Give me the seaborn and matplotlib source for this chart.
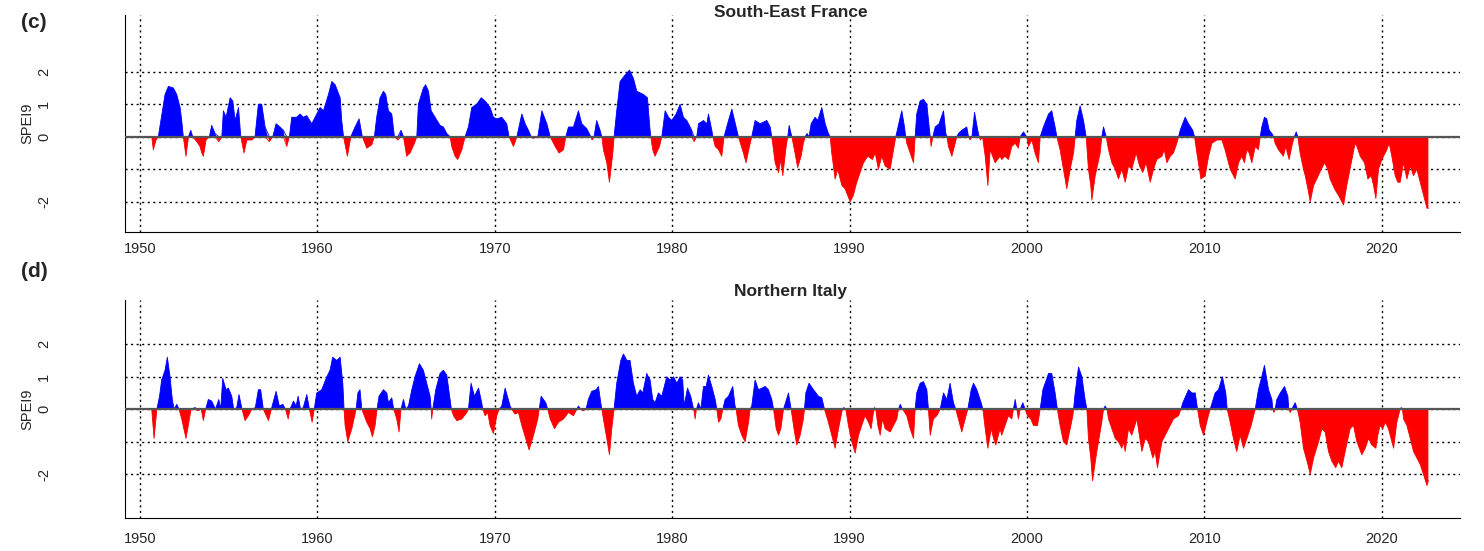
import numpy as np
import pandas as pd
import seaborn as sns
import matplotlib.pyplot as plt

# SPEI9 (decimal year, value)
fr_years = [1950.66, 1950.75, 1950.90, 1951.03, 1951.41, 1951.60, 1951.88, 1952.07, 1952.26, 1952.35,
            1952.44, 1952.59, 1952.73, 1952.86, 1952.97, 1953.20, 1953.38, 1953.48, 1953.57, 1953.72,
            1953.91, 1954.04, 1954.23, 1954.44, 1954.61, 1954.70, 1954.85, 1955.08, 1955.23, 1955.36,
            1955.55, 1955.68, 1955.86, 1956.02, 1956.30, 1956.48, 1956.67, 1956.86, 1957.05, 1957.29,
            1957.48, 1957.67, 1957.89, 1958.08, 1958.27, 1958.42, 1958.55, 1958.83, 1959.02, 1959.21,
            1959.40, 1959.68, 1959.87, 1960.15, 1960.34, 1960.62, 1960.81, 1961.00, 1961.28, 1961.37,
            1961.47, 1961.69, 1961.88, 1962.12, 1962.35, 1962.53, 1962.78, 1963.06, 1963.21, 1963.34,
            1963.53, 1963.72, 1963.85, 1964.00, 1964.19, 1964.34, 1964.53, 1964.71, 1964.85, 1965.03,
            1965.22, 1965.47, 1965.60, 1965.69, 1965.97, 1966.10, 1966.26, 1966.41, 1966.63, 1966.91,
            1967.10, 1967.29, 1967.48, 1967.57, 1967.76, 1967.91, 1968.14, 1968.32, 1968.51, 1968.70,
            1968.98, 1969.23, 1969.45, 1969.73, 1969.92, 1970.11, 1970.39, 1970.67, 1970.80, 1971.05,
            1971.24, 1971.52, 1971.71, 1971.89, 1972.05, 1972.18, 1972.42, 1972.65, 1972.93, 1973.12,
            1973.40, 1973.62, 1973.87, 1974.00, 1974.15, 1974.43, 1974.71, 1974.90, 1975.18, 1975.41,
            1975.48, 1975.59, 1975.74, 1975.93, 1976.03, 1976.12, 1976.31, 1976.46, 1976.65, 1976.72,
            1976.87, 1977.06, 1977.34, 1977.59, 1977.81, 1978.00, 1978.19, 1978.38, 1978.60, 1978.75,
            1978.79, 1978.90, 1979.03, 1979.28, 1979.41, 1979.60, 1979.79, 1979.97, 1980.22, 1980.44,
            1980.63, 1980.82, 1981.10, 1981.23, 1981.38, 1981.48, 1981.76, 1981.95, 1982.04, 1982.23,
            1982.29, 1982.42, 1982.61, 1982.79, 1982.92, 1983.17, 1983.36, 1983.60, 1983.73, 1984.01,
            1984.16, 1984.35, 1984.48, 1984.67, 1984.95, 1985.33, 1985.52, 1985.61, 1985.80, 1985.99,
            1986.12, 1986.23, 1986.42, 1986.51, 1986.59, 1986.74, 1986.92, 1987.07, 1987.26, 1987.39,
            1987.49, 1987.60, 1987.71, 1987.83, 1988.05, 1988.20, 1988.43, 1988.62, 1988.80, 1988.90,
            1988.99, 1989.18, 1989.33, 1989.56, 1989.74, 1990.03, 1990.21, 1990.40, 1990.78, 1991.02,
            1991.28, 1991.44, 1991.62, 1991.81, 1992.00, 1992.28, 1992.47, 1992.60, 1992.85, 1992.94,
            1993.09, 1993.16, 1993.22, 1993.47, 1993.60, 1993.69, 1993.78, 1993.97, 1994.16, 1994.35,
            1994.48, 1994.54, 1994.59, 1994.69, 1994.82, 1995.04, 1995.29, 1995.42, 1995.48, 1995.57,
            1995.76, 1995.95, 1996.04, 1996.13, 1996.32, 1996.60, 1996.70, 1996.79, 1996.89, 1997.04,
            1997.22, 1997.30, 1997.37, 1997.49, 1997.64, 1997.79, 1997.92, 1998.20, 1998.48, 1998.57,
            1998.76, 1998.95, 1999.14, 1999.33, 1999.51, 1999.61, 1999.80, 1999.98, 2000.08, 2000.27,
            2000.45, 2000.64, 2000.74, 2000.92, 2001.21, 2001.39, 2001.58, 2001.68, 2001.86, 2002.05,
            2002.24, 2002.43, 2002.62, 2002.71, 2002.80, 2002.99, 2003.18, 2003.33, 2003.46, 2003.59,
            2003.65, 2003.84, 2004.12, 2004.21, 2004.31, 2004.46, 2004.59, 2004.78, 2004.97, 2005.15,
            2005.34, 2005.53, 2005.72, 2005.90, 2006.15, 2006.34, 2006.52, 2006.71, 2006.94, 2007.13,
            2007.31, 2007.60, 2007.73, 2007.88, 2008.07, 2008.25, 2008.44, 2008.54, 2008.63, 2008.91,
            2009.10, 2009.34, 2009.44, 2009.57, 2009.80, 2010.04, 2010.23, 2010.42, 2010.70, 2010.98,
            2011.16, 2011.45, 2011.73, 2011.92, 2012.10, 2012.25, 2012.39, 2012.52, 2012.67, 2012.86,
            2013.04, 2013.14, 2013.23, 2013.38, 2013.51, 2013.65, 2013.80, 2013.89, 2013.98, 2014.17,
            2014.45, 2014.58, 2014.77, 2014.96, 2015.07, 2015.17, 2015.26, 2015.39, 2015.58, 2015.68,
            2015.83, 2015.96, 2016.15, 2016.33, 2016.58, 2016.77, 2016.95, 2017.08, 2017.33, 2017.55,
            2017.84, 2018.02, 2018.31, 2018.49, 2018.59, 2018.78, 2019.02, 2019.21, 2019.40, 2019.53,
            2019.66, 2019.81, 2020.00, 2020.28, 2020.41, 2020.56, 2020.75, 2020.90, 2021.03, 2021.22,
            2021.41, 2021.60, 2021.78, 2021.97, 2022.16, 2022.35, 2022.54, 2022.62]
fr_spei = [0.0, -0.4, -0.1, 0.0, 1.3, 1.55, 1.5, 1.3, 0.9, 0.5,
           0.0, -0.6, 0.0, 0.2, 0.0, -0.15, -0.3, -0.5, -0.6, -0.1,
           0.0, 0.35, 0.1, -0.15, 0.0, 0.8, 0.6, 1.2, 1.1, 0.5,
           0.9, 0.0, -0.5, -0.1, -0.1, 0.0, 1.0, 1.0, 0.3, -0.15,
           0.0, 0.4, 0.3, 0.2, -0.3, 0.0, 0.6, 0.6, 0.7, 0.6,
           0.65, 0.4, 0.6, 0.9, 0.8, 1.3, 1.7, 1.6, 1.2, 0.5,
           0.0, -0.6, 0.0, 0.3, 0.55, 0.0, -0.35, -0.25, 0.0, 0.6,
           1.2, 1.4, 1.3, 0.8, 0.7, 0.0, -0.1, 0.2, 0.0, -0.6,
           -0.5, -0.2, 0.0, 1.0, 1.5, 1.6, 1.4, 0.8, 0.6, 0.35,
           0.3, 0.1, 0.0, -0.3, -0.6, -0.7, -0.4, 0.0, 0.3, 0.9,
           1.0, 1.2, 1.1, 0.9, 0.6, 0.55, 0.6, 0.4, 0.0, -0.3,
           0.0, 0.7, 0.4, 0.2, 0.0, -0.05, 0.0, 0.8, 0.4, 0.0,
           -0.3, -0.5, -0.4, 0.0, 0.3, 0.3, 0.8, 0.4, 0.25, 0.0,
           -0.1, 0.0, 0.5, 0.2, 0.0, -0.4, -0.8, -1.4, -0.5, 0.0,
           0.8, 1.7, 1.9, 2.05, 1.8, 1.4, 1.35, 1.3, 1.2, 0.2,
           0.0, -0.4, -0.6, -0.3, 0.0, 0.8, 0.6, 0.5, 0.7, 1.0,
           0.6, 0.5, 0.2, -0.15, 0.0, 0.4, 0.5, 0.4, 0.7, 0.2,
           0.0, -0.3, -0.4, -0.6, 0.0, 0.5, 0.85, 0.3, 0.0, -0.5,
           -0.8, -0.3, 0.0, 0.5, 0.4, 0.5, 0.3, 0.0, -0.8, -1.1,
           -0.7, -1.2, -0.3, 0.0, 0.35, 0.0, -0.5, -0.95, -0.6, -0.2,
           0.0, 0.1, 0.0, 0.4, 0.6, 0.5, 0.9, 0.4, 0.1, 0.0,
           -0.5, -1.3, -1.0, -1.5, -1.6, -2.0, -1.8, -1.4, -0.8, -0.6,
           -0.7, -0.5, -1.0, -0.6, -0.9, -1.0, -0.4, 0.0, 0.6, 0.8,
           0.3, 0.0, -0.2, -0.6, -0.8, 0.0, 0.7, 1.1, 1.15, 1.0,
           0.3, 0.0, -0.3, 0.0, 0.3, 0.4, 0.8, 0.1, 0.0, -0.3,
           -0.6, -0.2, 0.0, 0.1, 0.2, 0.3, 0.0, -0.1, 0.0, 0.75,
           0.2, 0.0, -0.1, 0.0, -0.6, -1.5, -0.4, -0.8, -0.6, -0.7,
           -0.6, -0.7, -0.3, -0.2, -0.35, 0.0, 0.15, 0.0, -0.3, -0.1,
           -0.5, -0.8, 0.0, 0.3, 0.7, 0.8, 0.3, 0.0, -0.4, -1.0,
           -1.6, -1.0, -0.5, 0.0, 0.5, 0.95, 0.5, 0.0, -1.0, -1.5,
           -1.95, -1.2, -0.5, 0.0, 0.3, 0.0, -0.4, -0.8, -1.0, -1.3,
           -1.0, -1.4, -0.9, -1.0, -0.5, -0.9, -1.1, -0.8, -1.4, -1.0,
           -0.7, -0.6, -0.4, -0.8, -0.6, -0.5, -0.2, 0.0, 0.2, 0.6,
           0.4, 0.2, 0.0, -0.5, -1.3, -1.2, -0.6, -0.2, -0.1, -0.1,
           -0.4, -1.0, -1.3, -0.8, -0.6, -0.8, -0.4, -0.5, -0.8, -0.3,
           -0.4, 0.0, 0.3, 0.6, 0.55, 0.2, 0.1, 0.0, -0.2, -0.4,
           -0.6, -0.3, -0.7, -0.2, 0.0, 0.15, 0.0, -0.5, -1.0, -1.2,
           -1.6, -2.0, -1.5, -1.3, -1.0, -0.8, -1.0, -1.3, -1.6, -1.8,
           -2.1, -1.5, -0.7, -0.2, -0.3, -0.6, -0.8, -1.3, -1.2, -1.5,
           -1.9, -1.0, -0.7, -0.4, -0.2, -0.6, -1.2, -1.4, -1.4, -0.8,
           -1.3, -0.9, -1.2, -1.0, -1.4, -1.8, -2.2, -2.2]

it_years = [1950.66, 1950.79, 1950.95, 1951.10, 1951.22, 1951.41, 1951.54, 1951.69, 1951.82, 1951.92,
            1952.07, 1952.20, 1952.35, 1952.59, 1952.78, 1952.88, 1953.10, 1953.25, 1953.45, 1953.57,
            1953.70, 1953.85, 1954.04, 1954.25, 1954.44, 1954.55, 1954.66, 1954.85, 1954.98, 1955.17,
            1955.28, 1955.45, 1955.58, 1955.75, 1955.92, 1956.11, 1956.30, 1956.50, 1956.67, 1956.80,
            1956.95, 1957.24, 1957.40, 1957.67, 1957.85, 1958.05, 1958.20, 1958.35, 1958.45, 1958.65,
            1958.80, 1958.91, 1959.05, 1959.20, 1959.40, 1959.55, 1959.70, 1959.82, 1959.96, 1960.24,
            1960.53, 1960.71, 1960.86, 1961.09, 1961.28, 1961.43, 1961.50, 1961.56, 1961.71, 1961.94,
            1962.10, 1962.18, 1962.28, 1962.40, 1962.50, 1962.78, 1962.97, 1963.10, 1963.25, 1963.36,
            1963.47, 1963.72, 1963.91, 1964.00, 1964.19, 1964.30, 1964.47, 1964.60, 1964.71, 1964.85,
            1964.98, 1965.13, 1965.32, 1965.50, 1965.75, 1965.97, 1966.16, 1966.35, 1966.41, 1966.44,
            1966.50, 1966.67, 1966.91, 1967.10, 1967.29, 1967.48, 1967.55, 1967.67, 1967.85, 1968.14,
            1968.42, 1968.51, 1968.66, 1968.85, 1969.08, 1969.26, 1969.32, 1969.45, 1969.60, 1969.73,
            1969.92, 1970.11, 1970.24, 1970.39, 1970.58, 1970.86, 1970.95, 1971.14, 1971.33, 1971.52,
            1971.74, 1971.93, 1972.18, 1972.42, 1972.50, 1972.61, 1972.87, 1972.98, 1973.12, 1973.36,
            1973.59, 1973.87, 1974.15, 1974.43, 1974.62, 1974.71, 1974.84, 1974.99, 1975.14, 1975.27,
            1975.46, 1975.71, 1975.84, 1975.97, 1976.03, 1976.12, 1976.31, 1976.46, 1976.59, 1976.72,
            1976.87, 1977.10, 1977.25, 1977.44, 1977.62, 1977.81, 1978.00, 1978.19, 1978.34, 1978.56,
            1978.75, 1978.90, 1979.03, 1979.22, 1979.41, 1979.69, 1979.88, 1980.07, 1980.26, 1980.44,
            1980.59, 1980.67, 1980.86, 1981.04, 1981.16, 1981.21, 1981.29, 1981.36, 1981.48, 1981.61,
            1981.76, 1981.91, 1982.04, 1982.23, 1982.42, 1982.51, 1982.61, 1982.74, 1982.85, 1982.98,
            1983.17, 1983.41, 1983.54, 1983.60, 1983.73, 1983.92, 1984.11, 1984.30, 1984.39, 1984.48,
            1984.67, 1984.86, 1985.24, 1985.42, 1985.61, 1985.71, 1985.86, 1985.99, 1986.12, 1986.27,
            1986.55, 1986.70, 1986.89, 1987.02, 1987.21, 1987.39, 1987.45, 1987.53, 1987.71, 1987.96,
            1988.24, 1988.43, 1988.58, 1988.80, 1988.99, 1989.18, 1989.37, 1989.52, 1989.59, 1989.67,
            1989.78, 1989.93, 1990.12, 1990.31, 1990.50, 1990.68, 1990.87, 1991.06, 1991.21, 1991.34,
            1991.40, 1991.47, 1991.59, 1991.72, 1991.85, 1992.00, 1992.28, 1992.47, 1992.66, 1992.75,
            1992.85, 1992.98, 1993.22, 1993.41, 1993.60, 1993.69, 1993.78, 1993.97, 1994.16, 1994.35,
            1994.44, 1994.54, 1994.72, 1994.91, 1995.10, 1995.29, 1995.48, 1995.66, 1995.85, 1995.98,
            1996.13, 1996.32, 1996.51, 1996.66, 1996.85, 1996.98, 1997.17, 1997.41, 1997.51, 1997.64,
            1997.79, 1997.98, 1998.11, 1998.24, 1998.48, 1998.57, 1998.76, 1998.95, 1999.14, 1999.23,
            1999.33, 1999.42, 1999.51, 1999.61, 1999.76, 1999.89, 2000.02, 2000.21, 2000.36, 2000.59,
            2000.74, 2000.89, 2001.21, 2001.39, 2001.58, 2001.71, 2001.86, 2002.05, 2002.24, 2002.43,
            2002.58, 2002.62, 2002.71, 2002.90, 2003.09, 2003.27, 2003.37, 2003.46, 2003.59, 2003.69,
            2003.93, 2004.21, 2004.31, 2004.40, 2004.50, 2004.59, 2004.78, 2004.97, 2005.15, 2005.34,
            2005.43, 2005.53, 2005.72, 2005.90, 2006.19, 2006.47, 2006.66, 2006.84, 2007.09, 2007.22,
            2007.35, 2007.60, 2007.88, 2008.25, 2008.54, 2008.67, 2008.78, 2009.10, 2009.29, 2009.48,
            2009.61, 2009.76, 2009.95, 2010.17, 2010.32, 2010.60, 2010.79, 2011.01, 2011.20, 2011.28,
            2011.45, 2011.63, 2011.82, 2012.01, 2012.20, 2012.39, 2012.63, 2012.86, 2013.04, 2013.23,
            2013.38, 2013.61, 2013.80, 2013.85, 2013.91, 2013.98, 2014.08, 2014.27, 2014.51, 2014.70,
            2014.75, 2014.83, 2014.92, 2015.11, 2015.24, 2015.39, 2015.58, 2015.83, 2015.96, 2016.15,
            2016.43, 2016.62, 2016.80, 2016.99, 2017.18, 2017.40, 2017.55, 2017.74, 2017.93, 2018.21,
            2018.40, 2018.59, 2018.87, 2019.06, 2019.25, 2019.43, 2019.66, 2019.77, 2019.90, 2020.05,
            2020.19, 2020.37, 2020.66, 2020.84, 2020.98, 2021.03, 2021.09, 2021.16, 2021.22, 2021.41,
            2021.60, 2021.78, 2021.97, 2022.16, 2022.40, 2022.54, 2022.62]
it_spei = [0.0, -0.9, 0.0, 0.4, 0.9, 1.2, 1.6, 1.0, 0.3, 0.0,
           0.15, 0.0, -0.3, -0.9, -0.3, 0.0, 0.05, -0.05, 0.0, -0.35,
           0.0, 0.3, 0.25, 0.0, 0.3, 0.0, 0.95, 0.6, 0.65, 0.4,
           0.0, 0.05, 0.45, 0.0, -0.35, -0.2, 0.0, 0.05, 0.6, 0.6,
           0.0, -0.35, 0.0, 0.55, 0.1, 0.15, 0.0, -0.3, 0.0, 0.25,
           0.1, 0.4, 0.0, 0.05, 0.45, 0.0, -0.4, 0.0, 0.5, 0.6,
           1.0, 1.2, 1.6, 1.5, 1.6, 0.8, 0.0, -0.5, -1.0, -0.6,
           -0.2, 0.0, 0.5, 0.6, 0.0, -0.4, -0.6, -0.85, -0.5, 0.0,
           0.4, 0.6, 0.5, 0.2, 0.35, 0.0, -0.3, -0.7, 0.0, 0.3,
           0.0, 0.1, 0.6, 1.0, 1.4, 1.2, 0.8, 0.4, 0.0, -0.3,
           0.0, 0.6, 1.1, 1.2, 1.05, 0.3, 0.0, -0.2, -0.35, -0.3,
           -0.1, 0.0, 0.8, 0.4, 0.65, 0.2, 0.0, -0.2, -0.1, -0.5,
           -0.75, -0.2, 0.0, 0.1, 0.65, 0.1, 0.0, -0.15, -0.1, -0.5,
           -0.9, -1.25, -0.8, -0.3, 0.0, 0.4, 0.2, 0.0, -0.3, -0.6,
           -0.4, -0.3, -0.1, -0.2, 0.0, 0.1, 0.0, -0.05, 0.0, 0.3,
           0.55, 0.6, 0.7, 0.2, 0.0, -0.3, -0.9, -1.4, -0.6, 0.0,
           0.8, 1.5, 1.7, 1.5, 1.5, 0.8, 0.4, 0.6, 0.5, 1.1,
           0.9, 0.3, 0.2, 0.5, 0.4, 1.0, 0.9, 1.0, 0.8, 1.0,
           0.9, 0.1, 0.65, 0.4, 0.1, 0.0, -0.3, 0.0, 0.2, 0.0,
           0.7, 0.7, 1.05, 0.7, 0.3, 0.0, -0.4, -0.3, 0.0, 0.3,
           0.4, 0.7, 0.1, 0.0, -0.5, -0.8, -1.0, -0.4, 0.0, 0.1,
           0.9, 0.6, 0.7, 0.6, 0.3, 0.0, -0.6, -0.8, -0.6, 0.0,
           0.5, 0.0, -0.7, -1.1, -0.8, -0.3, 0.0, 0.5, 0.8, 0.6,
           0.4, 0.35, 0.0, -0.4, -0.8, -1.2, -0.6, -0.2, 0.0, 0.05,
           0.0, -0.5, -1.0, -1.35, -0.8, -0.5, -0.2, -0.4, -0.6, -0.1,
           0.05, 0.0, -0.5, -0.8, -0.3, -0.6, -0.7, -0.5, -0.3, 0.0,
           0.15, 0.0, -0.2, -0.6, -0.9, 0.0, 0.5, 0.8, 0.85, 0.6,
           0.0, -0.8, -0.3, -0.2, 0.0, 0.5, 0.3, 0.8, 0.2, 0.0,
           -0.3, -0.7, -0.3, 0.0, 0.6, 0.8, 0.6, 0.2, 0.0, -0.6,
           -1.2, -0.6, -0.9, -1.1, -0.6, -0.8, -0.5, -0.2, -0.3, 0.0,
           0.3, 0.0, -0.3, 0.0, 0.2, 0.0, -0.2, -0.3, -0.5, -0.5,
           0.0, 0.6, 1.1, 1.1, 0.5, 0.0, -0.5, -1.0, -1.1, -0.6,
           -0.2, 0.0, 0.5, 1.3, 1.0, 0.3, 0.0, -0.9, -1.5, -2.2,
           -1.3, -0.4, 0.0, 0.1, 0.0, -0.3, -0.6, -0.9, -1.0, -1.2,
           -1.0, -1.3, -0.6, -0.8, -0.3, -1.3, -0.9, -1.0, -1.5, -1.3,
           -1.8, -1.0, -0.7, -0.3, -0.2, 0.0, 0.2, 0.6, 0.5, 0.5,
           0.0, -0.5, -0.8, -0.3, 0.0, 0.5, 0.6, 1.0, 0.5, 0.0,
           -0.4, -0.9, -1.3, -0.8, -1.2, -0.9, -0.5, 0.0, 0.6, 1.0,
           1.35, 0.6, 0.3, 0.0, -0.1, 0.0, 0.3, 0.5, 0.7, 0.4,
           0.0, -0.1, 0.0, 0.2, 0.0, -0.4, -1.2, -1.7, -2.0, -1.5,
           -1.0, -0.6, -0.7, -1.3, -1.6, -1.8, -1.6, -1.8, -1.3, -0.6,
           -0.5, -1.0, -1.4, -1.2, -0.9, -1.1, -1.2, -0.8, -0.5, -0.6,
           -0.4, -0.6, -1.2, -0.4, -0.1, 0.0, 0.05, 0.0, -0.3, -0.5,
           -0.9, -1.3, -1.5, -1.7, -2.1, -2.35, -2.2]

panels = [("(c)", "South-East France", fr_years, fr_spei),
          ("(d)", "Northern Italy", it_years, it_spei)]
decades = [1950, 1960, 1970, 1980, 1990, 2000, 2010, 2020]
y_ticks = [-2, -1, 0, 1, 2]
y_labels = ["-2", "", "0", "1", "2"]

sns.set_style("white")
plt.rcParams["font.family"] = ["Liberation Sans", "DejaVu Sans"]

fig = plt.figure(figsize=(14.84, 5.51), dpi=100)
# per panel: axes box (figure fraction), y range, title / tag height, x label pad
layout = [
    dict(box=[0.0842, 0.579, 0.8996, 0.394], ylim=(-2.93, 3.75), title_y=0.978, tag_y=0.960, xpad=2),
    dict(box=[0.0842, 0.060, 0.8996, 0.3955], ylim=(-3.345, 3.36), title_y=0.471, tag_y=0.508, xpad=5),
]

for (tag, name, yrs, vals), lay in zip(panels, layout):
    ax = fig.add_axes(lay["box"])
    df = pd.DataFrame({"year": yrs, "spei": vals})
    df["wet"] = df["spei"].clip(lower=0)
    df["dry"] = df["spei"].clip(upper=0)

    ax.fill_between(df["year"], 0, df["spei"], where=df["spei"] >= 0,
                    interpolate=True, color="#0000FF", lw=0)
    ax.fill_between(df["year"], 0, df["spei"], where=df["spei"] <= 0,
                    interpolate=True, color="#FF0000", lw=0)
    sns.lineplot(data=df, x="year", y="wet", ax=ax, color="#0000FF", lw=0.6)
    sns.lineplot(data=df, x="year", y="dry", ax=ax, color="#FF0000", lw=0.6)
    ax.axhline(0, color="#555555", lw=1.6, zorder=3)

    for d in decades:
        ax.axvline(d, color="black", ls=(0, (1.5, 2.5)), lw=1.0, zorder=0)
    for t in y_ticks:
        ax.axhline(t, color="black", ls=(0, (1.5, 2.5)), lw=1.0, zorder=0)

    ax.set_xlim(1949.15, 2024.4)
    ax.set_ylim(*lay["ylim"])
    ax.set_xticks(decades)
    ax.set_xticklabels([str(d) for d in decades], fontsize=10.5)
    ax.set_yticks(y_ticks)
    ax.set_yticklabels(y_labels, rotation=90, va="center", fontsize=10.5)
    ax.tick_params(axis="x", length=5, width=0.8, color="black", direction="out", pad=lay["xpad"])
    ax.tick_params(axis="y", length=5, width=0.8, color="black", direction="out", pad=48)
    ax.set_xlabel("")
    ax.set_ylabel("SPEI9", fontsize=10.5, labelpad=2)

    for side in ["top", "right"]:
        ax.spines[side].set_visible(False)
    for side in ["left", "bottom"]:
        ax.spines[side].set_color("black")
        ax.spines[side].set_linewidth(0.8)

    fig.text(0.533, lay["title_y"], name, fontsize=12.5, fontweight="bold", ha="center", va="center")
    fig.text(0.014, lay["tag_y"], tag, fontsize=15, fontweight="bold", ha="left", va="center")

fig.savefig("out.png", dpi=100)
